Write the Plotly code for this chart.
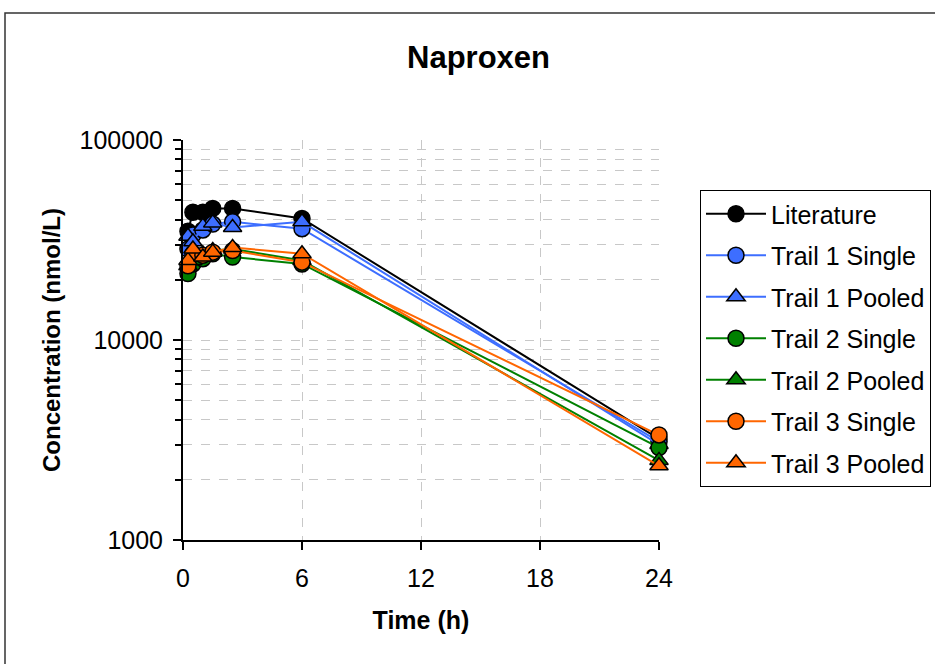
import plotly.graph_objects as go

time_h = [0.25, 0.5, 1, 1.5, 2.5, 6, 24]

literature = [35000, 43500, 43500, 45500, 45500, 40500, 3200]
trail1_single = [28500, 33500, 35500, 38000, 39000, 36000, 3100]
trail1_pooled = [33000, 31000, 37000, 38500, 36500, 39000, 3000]
trail2_single = [21500, 24000, 25500, 27000, 26000, 24000, 2900]
trail2_pooled = [23500, 25000, 27000, 28000, 28500, 25000, 2500]
trail3_single = [23500, 27000, 26500, 27500, 28000, 24500, 3350]
trail3_pooled = [25000, 28500, 26000, 27500, 29000, 27000, 2350]

series = [
    ("Literature", literature, "#000000", "circle"),
    ("Trail 1 Single", trail1_single, "#3D6EFF", "circle"),
    ("Trail 1 Pooled", trail1_pooled, "#3D6EFF", "triangle-up"),
    ("Trail 2 Single", trail2_single, "#008000", "circle"),
    ("Trail 2 Pooled", trail2_pooled, "#008000", "triangle-up"),
    ("Trail 3 Single", trail3_single, "#FF6600", "circle"),
    ("Trail 3 Pooled", trail3_pooled, "#FF6600", "triangle-up"),
]

fig = go.Figure()
for i, (name, vals, color, sym) in enumerate(series):
    fig.add_trace(go.Scatter(
        x=time_h, y=vals, name=name, mode="lines+markers",
        legendgroup=f"g{i}",
        line=dict(color=color, width=2),
        marker=dict(symbol=sym, size=16, color=color,
                    line=dict(color="#000000", width=1.5)),
        cliponaxis=False,
    ))

# plot area in pixels: x 183..659, y 140..540
L, R, T, B = 183, 659, 140, 540
W, H = 935, 664

def px(x):
    return (x - L) / (R - L)

def py(y):
    return (B - y) / (B - T)

fig.update_layout(
    width=W, height=H,
    margin=dict(l=L, r=W - R, t=T, b=H - B, autoexpand=False),
    paper_bgcolor="white", plot_bgcolor="white",
    font=dict(family="Liberation Sans, Arial, sans-serif", color="black", size=24),
    showlegend=True,
    legend=dict(
        x=px(700), y=py(190), xanchor="left", yanchor="top",
        bordercolor="black", borderwidth=1, bgcolor="white",
        font=dict(size=25), traceorder="grouped", tracegroupgap=6,
        itemwidth=60,
    ),
    annotations=[
        dict(text="<b>Naproxen</b>", x=px(478), y=py(57), xref="paper", yref="paper",
             showarrow=False, font=dict(size=31), xanchor="center", yanchor="middle"),
    ],
    shapes=[
        dict(type="rect", xref="paper", yref="paper",
             x0=px(5), x1=px(940), y0=py(670), y1=py(13),
             line=dict(color="#333333", width=1.5), layer="below"),
    ],
)

fig.update_xaxes(
    range=[0, 24], tickvals=[0, 6, 12, 18, 24],
    ticks="outside", ticklen=8, tickwidth=1.5, tickcolor="black",
    showline=True, linecolor="black", linewidth=2,
    showgrid=True, gridcolor="#C8C8C8", griddash="dash", gridwidth=1,
    zeroline=False, tickfont=dict(size=25), ticklabelstandoff=7,
    title=dict(text="<b>Time (h)</b>", font=dict(size=25), standoff=20),
)

fig.update_yaxes(
    type="log", range=[3, 5], tickvals=[1000, 10000, 100000], tickformat="d",
    ticks="outside", ticklen=8, tickwidth=1.5, tickcolor="black",
    showline=True, linecolor="black", linewidth=2,
    showgrid=True, gridcolor="#C8C8C8", griddash="dash", gridwidth=1,
    minor=dict(ticks="outside", ticklen=6, tickwidth=1.5, tickcolor="black",
               showgrid=True, gridcolor="#C8C8C8", griddash="dash", dtick="D1"),
    zeroline=False, tickfont=dict(size=25), ticklabelstandoff=5,
    title=dict(text="<b>Concentration (nmol/L)</b>", font=dict(size=24), standoff=12),
)

fig.write_html("out.html")
